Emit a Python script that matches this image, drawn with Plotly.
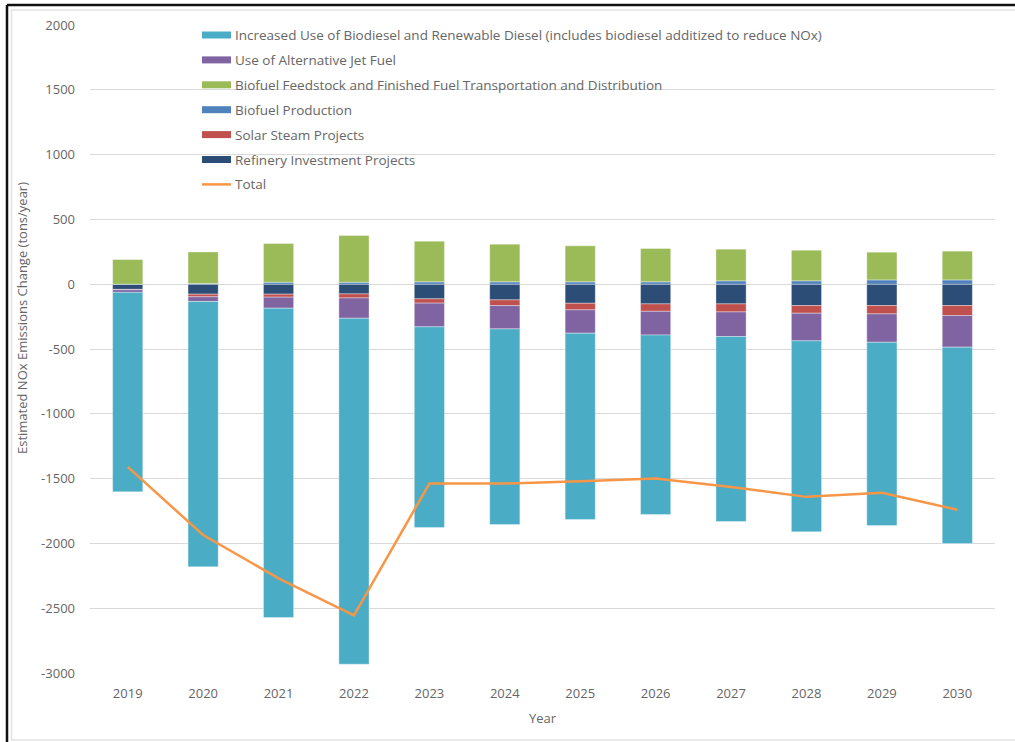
import plotly.graph_objects as go

years = ["2019", "2020", "2021", "2022", "2023", "2024", "2025", "2026", "2027", "2028", "2029", "2030"]

refinery = [-40, -77, -77, -75, -113, -121, -147, -152, -152, -165, -165, -165]
solar = [-3, -20, -23, -31, -33, -44, -51, -57, -62, -59, -64, -77]
biofuel_prod = [0, 5, 15, 15, 18, 18, 18, 18, 26, 26, 33, 33]
feedstock = [190, 244, 299, 360, 314, 291, 278, 257, 244, 236, 214, 222]
jet_fuel = [-20, -36, -85, -157, -183, -180, -180, -183, -190, -213, -219, -244]
biodiesel = [-1539, -2048, -2387, -2669, -1549, -1510, -1438, -1385, -1427, -1474, -1414, -1515]
total = [-1410, -1935, -2270, -2555, -1538, -1538, -1520, -1500, -1564, -1641, -1610, -1740]

y_ticks = [2000, 1500, 1000, 500, 0, -500, -1000, -1500, -2000, -2500, -3000]
y_tick_labels = ["2000", "1500", "1000", "500", "0", "-500", "-1000", "-1500", "-2000", "-2500", "-3000"]

names = {
    "biodiesel": "Increased Use of Biodiesel and Renewable Diesel (includes biodiesel additized to reduce NOx)",
    "jet": "Use of Alternative Jet Fuel",
    "feed": "Biofuel Feedstock and Finished Fuel Transportation and Distribution",
    "prod": "Biofuel Production",
    "solar": "Solar Steam Projects",
    "refinery": "Refinery Investment Projects",
    "total": "Total",
}
colors = {
    "biodiesel": "#4BACC6",
    "jet": "#8064A2",
    "feed": "#9BBB59",
    "prod": "#4F81BD",
    "solar": "#C0504D",
    "refinery": "#2C4D75",
    "total": "#F79646",
}

FONT = "Open Sans"
TXT = "#666666"

fig = go.Figure()
stack = [
    ("refinery", refinery),
    ("solar", solar),
    ("prod", biofuel_prod),
    ("feed", feedstock),
    ("jet", jet_fuel),
    ("biodiesel", biodiesel),
]
for key, vals in stack:
    fig.add_trace(go.Bar(
        x=years, y=vals, name=names[key], marker_color=colors[key],
        marker_line=dict(color="rgba(255,255,255,0.6)", width=0.6),
        showlegend=False,
    ))
fig.add_trace(go.Scatter(
    x=years, y=total, name=names["total"], mode="lines",
    line=dict(color=colors["total"], width=2.5), showlegend=False,
))

# plot area geometry (pixels)
L, R, T, B = 90, 995, 25, 673
W, H = R - L, B - T

def px(x):
    return (x - L) / W

def py(y):
    return (B - y) / H

shapes = []
annotations = []
legend_order = ["biodiesel", "jet", "feed", "prod", "solar", "refinery", "total"]
for i, key in enumerate(legend_order):
    yc = 35 + i * 24.9
    if key == "total":
        shapes.append(dict(type="line", xref="paper", yref="paper",
                           x0=px(202), x1=px(231), y0=py(yc), y1=py(yc),
                           line=dict(color=colors[key], width=2.5)))
    else:
        shapes.append(dict(type="rect", xref="paper", yref="paper",
                           x0=px(202), x1=px(231), y0=py(yc - 3.5), y1=py(yc + 3.5),
                           fillcolor=colors[key], line=dict(width=0)))
    annotations.append(dict(xref="paper", yref="paper", x=px(233), y=py(yc),
                            xanchor="left", yanchor="middle", showarrow=False,
                            text=names[key], font=dict(family=FONT, size=13.5, color=TXT)))

# y-axis title
annotations.append(dict(xref="paper", yref="paper", x=px(22), y=py(318),
                        xanchor="center", yanchor="middle", showarrow=False, textangle=-90,
                        text="Estimated NOx Emissions Change (tons/year)",
                        font=dict(family=FONT, size=13, color=TXT)))

# frame
shapes.append(dict(type="rect", xref="paper", yref="paper",
                   x0=px(11.5), x1=px(1030), y0=py(10), y1=py(740),
                   line=dict(color="#e3e3e3", width=1.5), layer="below"))
shapes.append(dict(type="line", xref="paper", yref="paper",
                   x0=px(7), x1=px(1030), y0=py(5), y1=py(5),
                   line=dict(color="#111111", width=2.5)))
shapes.append(dict(type="line", xref="paper", yref="paper",
                   x0=px(7), x1=px(7), y0=py(5), y1=py(760),
                   line=dict(color="#111111", width=2.5)))

fig.update_layout(
    width=1015, height=742,
    margin=dict(l=L, r=1015 - R, t=T, b=742 - B),
    paper_bgcolor="white", plot_bgcolor="white",
    barmode="relative", bargap=0.6,
    showlegend=False,
    font=dict(family=FONT, size=13, color=TXT),
    shapes=shapes, annotations=annotations,
    xaxis=dict(
        title=dict(text="Year", font=dict(family=FONT, size=13, color=TXT), standoff=12),
        showgrid=False, showline=False, zeroline=False, ticks="",
        tickfont=dict(family=FONT, size=13, color=TXT), ticklabelstandoff=11,
    ),
    yaxis=dict(
        range=[-3000, 2000], tickvals=y_ticks, ticktext=y_tick_labels,
        showgrid=True, gridcolor="#d9d9d9", gridwidth=1,
        zeroline=False, showline=False, ticks="",
        tickfont=dict(family=FONT, size=13, color=TXT), ticklabelstandoff=14,
    ),
)

fig.write_html("out.html")
